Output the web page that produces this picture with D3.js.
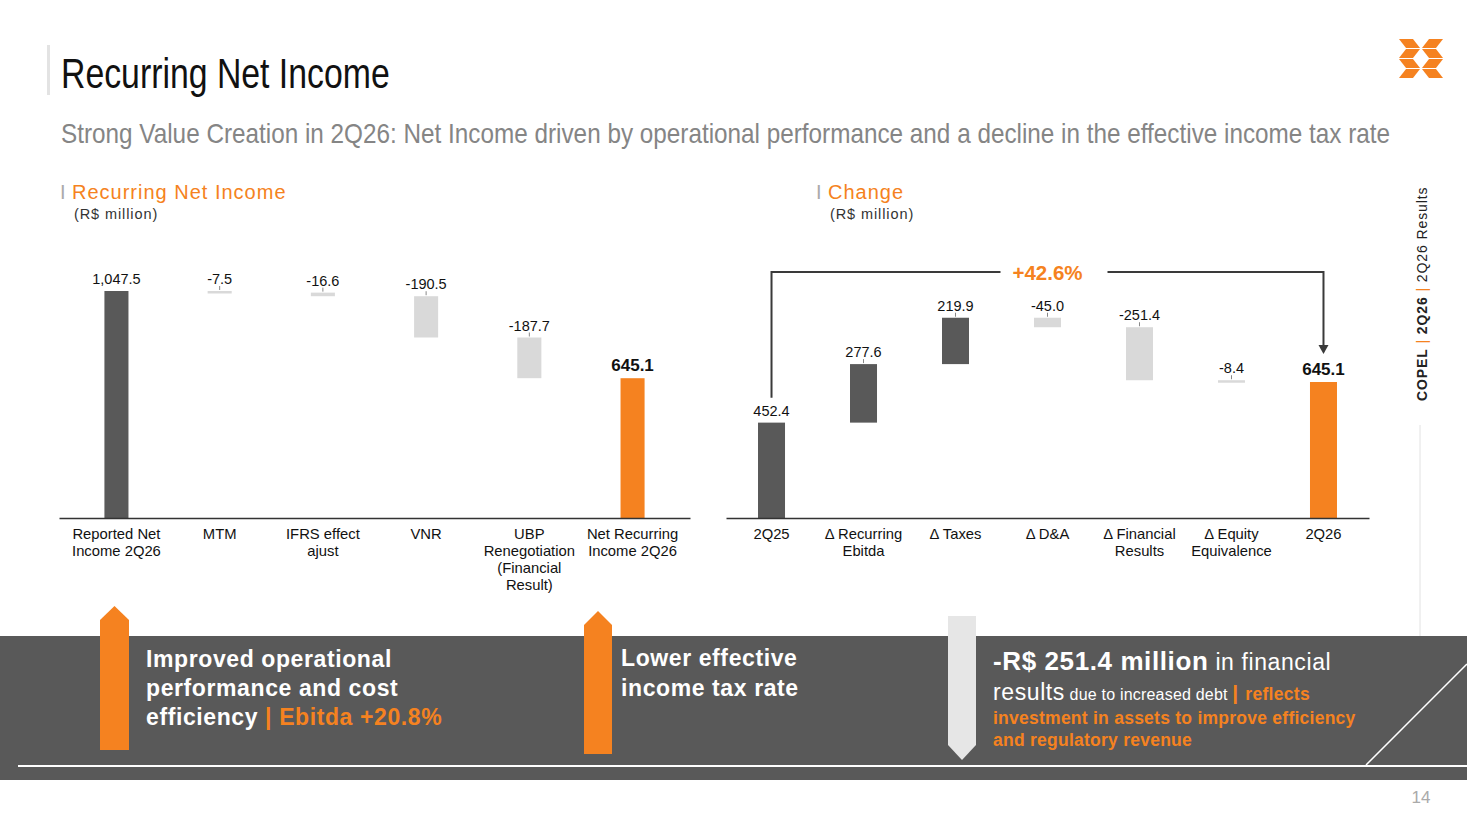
<!DOCTYPE html>
<html>
<head>
<meta charset="utf-8">
<script src="https://cdn.jsdelivr.net/npm/d3@7"></script>
<style>
  body { margin: 0; background: #fff; }
  svg { display: block; font-family: "Liberation Sans", Arial, sans-serif; }
</style>
</head>
<body>
<div id="chartContainer"></div>
<script>
// left waterfall
const leftLabels = [
    ['Reported Net', 'Income 2Q26'],
    ['MTM'],
    ['IFRS effect', 'ajust'],
    ['VNR'],
    ['UBP', 'Renegotiation', '(Financial', 'Result)'],
    ['Net Recurring', 'Income 2Q26']
];
const leftValues = [1047.5, -7.5, -16.6, -190.5, -187.7, 645.1];
const leftText = ['1,047.5', '-7.5', '-16.6', '-190.5', '-187.7', '645.1'];
const leftTotals = [true, false, false, false, false, true];

// right waterfall
const rightLabels = [
    ['2Q25'],
    ['Δ Recurring', 'Ebitda'],
    ['Δ Taxes'],
    ['Δ D&A'],
    ['Δ Financial', 'Results'],
    ['Δ Equity', 'Equivalence'],
    ['2Q26']
];
const rightValues = [452.4, 277.6, 219.9, -45.0, -251.4, -8.4, 645.1];
const rightTotals = [true, false, false, false, false, false, true];
const growthLabel = '+42.6%';

const orange = '#f58220';
const dark = '#595959';
const light = '#d9d9d9';

const svg = d3.select('#chartContainer')
    .append('svg')
    .attr('width', 1467)
    .attr('height', 825);

// ---- header ----
svg.append('rect').attr('x', 47).attr('y', 45).attr('width', 3).attr('height', 50).attr('fill', '#e3e3e3');
// condensed look: squeeze horizontally
svg.append('text')
    .attr('transform', 'translate(61,88) scale(0.805,1)')
    .attr('font-size', 42).attr('fill', '#111')
    .text('Recurring Net Income');
svg.append('text')
    .attr('transform', 'translate(61,143) scale(0.868,1)')
    .attr('font-size', 28).attr('fill', '#858585')
    .text('Strong Value Creation in 2Q26: Net Income driven by operational performance and a decline in the effective income tax rate');

// logo
const logo = svg.append('g').attr('transform', 'translate(1399,39)').attr('fill', orange);
[
    [[0, 0], [14, 0], [21, 9], [7, 9]],
    [[7, 10], [21, 10], [14, 19], [0, 19]],
    [[44, 0], [30, 0], [23, 9], [37, 9]],
    [[37, 10], [23, 10], [30, 19], [44, 19]]
].forEach(p => {
    logo.append('polygon').attr('points', p.map(d => d.join(',')).join(' '));
    logo.append('polygon').attr('points', p.map(d => [d[0], d[1] + 20].join(',')).join(' '));
});

// side caption
const side = svg.append('text')
    .attr('transform', 'translate(1427,401) rotate(-90)')
    .attr('font-size', 14).attr('letter-spacing', 0.9).attr('fill', '#222');
side.append('tspan').attr('font-weight', 'bold').text('COPEL');
side.append('tspan').attr('fill', orange).text('   |   ');
side.append('tspan').attr('font-weight', 'bold').text('2Q26');
side.append('tspan').attr('fill', orange).text('   |   ');
side.append('tspan').text('2Q26 Results');
svg.append('line').attr('x1', 1420).attr('x2', 1420).attr('y1', 425).attr('y2', 636)
    .attr('stroke', '#e2e2e2').attr('stroke-width', 1);

// section titles
function sectionTitle(x, y, title) {
    svg.append('text').attr('x', x).attr('y', y).attr('font-size', 20).attr('fill', '#aaa').text('I');
    svg.append('text').attr('x', x + 12).attr('y', y).attr('font-size', 20)
        .attr('letter-spacing', 1).attr('fill', orange).text(title);
    svg.append('text').attr('x', x + 14).attr('y', y + 20).attr('font-size', 14.5)
        .attr('letter-spacing', 0.9).attr('fill', '#333').text('(R$ million)');
}
sectionTitle(60, 199, 'Recurring Net Income');
sectionTitle(816, 199, 'Change');

// ---- waterfall builder ----
function waterfall(values, totals, labels, texts, range, pad, yTop) {
    let run = 0;
    const data = values.map((v, i) => {
        let y0, y1;
        if (totals[i]) { y0 = 0; y1 = v; run = v; }
        else { y0 = run; y1 = run + v; run = y1; }
        let color = v < 0 ? light : dark;
        if (totals[i]) color = i === values.length - 1 ? orange : dark;
        return { i, v, y0, y1, color, text: texts[i], lines: labels[i] };
    });

    const x = d3.scaleBand()
        .domain(data.map(d => d.i))
        .range(range)
        .paddingInner(pad[0])
        .paddingOuter(pad[1]);

    const y = d3.scaleLinear()
        .domain([0, d3.max([values[0], values[values.length - 1]])])
        .range([518, yTop]);

    const g = svg.append('g');

    g.selectAll('.bar')
        .data(data)
        .enter()
        .append('rect')
        .attr('class', 'bar')
        .attr('x', d => x(d.i))
        .attr('width', x.bandwidth())
        .attr('y', d => y(Math.max(d.y0, d.y1)))
        .attr('height', d => Math.max(2.5, Math.abs(y(d.y0) - y(d.y1))))
        .attr('fill', d => d.color);

    // little leader ticks
    g.selectAll('.lead')
        .data(data.filter(d => !totals[d.i]))
        .enter()
        .append('line')
        .attr('x1', d => x(d.i) + x.bandwidth() / 2)
        .attr('x2', d => x(d.i) + x.bandwidth() / 2)
        .attr('y1', d => y(Math.max(d.y0, d.y1)) - 5)
        .attr('y2', d => y(Math.max(d.y0, d.y1)) - 1)
        .attr('stroke', '#888').attr('stroke-width', 1);

    g.selectAll('.val')
        .data(data)
        .enter()
        .append('text')
        .attr('class', 'val')
        .attr('x', d => x(d.i) + x.bandwidth() / 2)
        .attr('y', d => y(Math.max(d.y0, d.y1)) - 7)
        .attr('text-anchor', 'middle')
        .attr('font-size', d => d.i === data.length - 1 ? 17 : 14.5)
        .attr('font-weight', d => d.i === data.length - 1 ? 'bold' : 'normal')
        .attr('fill', '#111')
        .text(d => d.text);

    const axis = g.append('g')
        .attr('transform', 'translate(0,518)')
        .call(d3.axisBottom(x).tickSize(0).tickSizeOuter(0).tickFormat(''));
    axis.select('.domain').attr('stroke', '#333').attr('stroke-width', 1.5);

    const lab = g.selectAll('.cat')
        .data(data)
        .enter()
        .append('text')
        .attr('class', 'cat')
        .attr('text-anchor', 'middle')
        .attr('font-size', 14.8)
        .attr('fill', '#111');
    lab.each(function (d) {
        d3.select(this).selectAll('tspan')
            .data(d.lines)
            .enter()
            .append('tspan')
            .attr('x', x(d.i) + x.bandwidth() / 2)
            .attr('y', (l, k) => 539 + k * 17)
            .text(l => l);
    });

    return { x, y };
}

waterfall(leftValues, leftTotals, leftLabels, leftText, [59, 690], [0.767, 0.44], 291);

const rightText = rightValues.map(v => v.toFixed(1));
const rs = waterfall(rightValues, rightTotals, rightLabels, rightText, [726, 1369], [0.7065, 0.348], 382);

// growth bracket
const bx0 = rs.x(0) + rs.x.bandwidth() / 2;
const bx1 = rs.x(rightValues.length - 1) + rs.x.bandwidth() / 2;
const by = 272;
const bracket = svg.append('g').attr('stroke', '#3a3a3a').attr('stroke-width', 2).attr('fill', 'none');
bracket.append('path').attr('d', `M${bx0},${rs.y(rightValues[0]) - 25}V${by}H${(bx0 + bx1) / 2 - 47}`);
bracket.append('path').attr('d', `M${(bx0 + bx1) / 2 + 60},${by}H${bx1}V${rs.y(rightValues[rightValues.length - 1]) - 36}`);
svg.append('path')
    .attr('d', `M${bx1 - 5},${rs.y(rightValues[rightValues.length - 1]) - 37}h10l-5,9z`)
    .attr('fill', '#3a3a3a');
svg.append('text')
    .attr('x', (bx0 + bx1) / 2).attr('y', by + 8)
    .attr('text-anchor', 'middle')
    .attr('font-size', 20.5).attr('font-weight', 'bold').attr('fill', orange)
    .text(growthLabel);

// ---- bottom banner ----
svg.append('rect').attr('x', 0).attr('y', 636).attr('width', 1467).attr('height', 144).attr('fill', dark);
svg.append('line').attr('x1', 18).attr('x2', 1467).attr('y1', 766).attr('y2', 766).attr('stroke', '#fff').attr('stroke-width', 2);
svg.append('line').attr('x1', 1366).attr('x2', 1467).attr('y1', 765).attr('y2', 664).attr('stroke', '#fff').attr('stroke-width', 1.5);

function upArrow(x, top, bottom, w, color) {
    svg.append('path')
        .attr('d', `M${x},${top + 14}L${x + w / 2},${top}L${x + w},${top + 14}V${bottom}H${x}Z`)
        .attr('fill', color);
}
upArrow(100, 606, 750, 29, orange);
upArrow(584, 611, 754, 28, orange);
svg.append('path')
    .attr('d', 'M948,616H976V745L962,760L948,745Z')
    .attr('fill', '#e6e6e6');

function para(x, y, lineH, lines) {
    lines.forEach((parts, k) => {
        const t = svg.append('text').attr('x', x).attr('y', y + k * lineH).attr('fill', '#fff');
        parts.forEach(p => {
            t.append('tspan')
                .attr('font-size', p.s || 23)
                .attr('font-weight', p.b ? 'bold' : 'normal')
                .attr('letter-spacing', p.ls === undefined ? 0.6 : p.ls)
                .attr('fill', p.c || '#fff')
                .text(p.t);
        });
    });
}
para(146, 667, 29, [
    [{ t: 'Improved operational', b: 1 }],
    [{ t: 'performance and cost', b: 1 }],
    [{ t: 'efficiency ', b: 1 }, { t: '| Ebitda +20.8%', b: 1, c: orange }]
]);
para(621, 666, 30, [
    [{ t: 'Lower effective', b: 1 }],
    [{ t: 'income tax rate', b: 1 }]
]);
para(993, 670, 30, [
    [{ t: '-R$ 251.4 million', b: 1, s: 26 }, { t: ' in financial', s: 23 }],
    [{ t: 'results', s: 23 }, { t: ' due to increased debt ', s: 16, ls: 0.2 }, { t: '| ', b: 1, s: 21, c: orange }, { t: 'reflects', b: 1, s: 17.5, ls: 0.3, c: orange }]
]);
para(993, 724, 22, [
    [{ t: 'investment in assets to improve efficiency', b: 1, s: 17.5, ls: 0.25, c: orange }],
    [{ t: 'and regulatory revenue', b: 1, s: 17.5, ls: 0.25, c: orange }]
]);

svg.append('text').attr('x', 1421).attr('y', 803).attr('text-anchor', 'middle')
    .attr('font-size', 17).attr('fill', '#aaa').text('14');
</script>
</body>
</html>
